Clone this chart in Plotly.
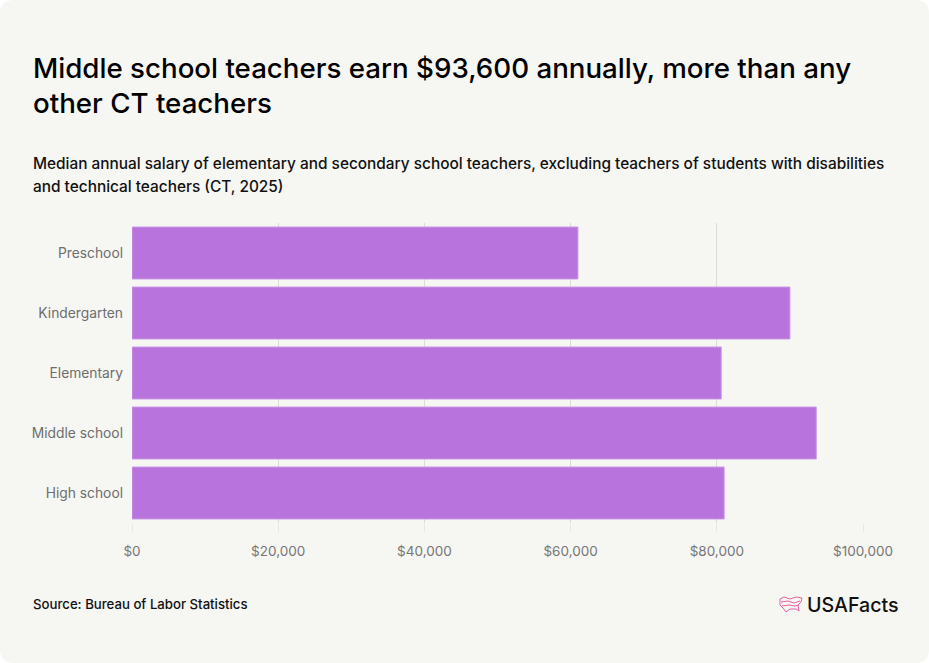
import plotly.graph_objects as go

categories = ["Preschool", "Kindergarten", "Elementary", "Middle school", "High school"]
salaries = [61000, 90000, 80600, 93600, 81000]
tick_vals = [0, 20000, 40000, 60000, 80000, 100000]
tick_text = ["$0", "$20,000", "$40,000", "$60,000", "$80,000", "$100,000"]

W, H = 929, 663
L, R, T, B = 132, 66, 223, 140
PW, PH = W - L - R, H - T - B


def px(x):
    return (x - L) / PW


def py(y):
    return (H - B - y) / PH


BG = "#f6f6f2"
FONT = "Inter"

fig = go.Figure()
fig.add_trace(go.Bar(
    y=categories, x=salaries, orientation="h",
    marker=dict(color="#b873dc", line=dict(color="#c795e3", width=1)),
    hoverinfo="x+y",
))

# rounded card background
r = 14
card = (f"M {px(r)} {py(0)} L {px(W - r)} {py(0)} Q {px(W)} {py(0)} {px(W)} {py(r)} "
        f"L {px(W)} {py(H - r)} Q {px(W)} {py(H)} {px(W - r)} {py(H)} "
        f"L {px(r)} {py(H)} Q {px(0)} {py(H)} {px(0)} {py(H - r)} "
        f"L {px(0)} {py(r)} Q {px(0)} {py(0)} {px(r)} {py(0)} Z")
shapes = [dict(type="path", path=card, xref="paper", yref="paper",
               fillcolor=BG, line=dict(width=0), layer="below")]

# logo icon (stylised map outline)
pts = [(780, 599), (784, 597), (790, 599), (796, 597), (802, 598), (801, 602),
       (798, 605), (799, 611), (796, 609), (790, 609), (786, 612), (783, 608), (780, 605)]
path = "M " + " L ".join(f"{px(x)} {py(y)}" for x, y in pts) + " Z"
shapes.append(dict(type="path", path=path, xref="paper", yref="paper",
                   line=dict(color="#ec5fa3", width=1)))
pts2 = [(781, 602), (788, 601), (794, 603), (800, 601)]
shapes.append(dict(type="path", path="M " + " L ".join(f"{px(x)} {py(y)}" for x, y in pts2),
                   xref="paper", yref="paper", line=dict(color="#ec5fa3", width=1)))
pts3 = [(782, 606), (789, 605), (795, 606), (799, 605)]
shapes.append(dict(type="path", path="M " + " L ".join(f"{px(x)} {py(y)}" for x, y in pts3),
                   xref="paper", yref="paper", line=dict(color="#ec5fa3", width=1)))


def ann(text, x, y, size, color="#111111", weight=400, xanchor="left"):
    return dict(text=text, x=px(x), y=py(y), xref="paper", yref="paper",
                xanchor=xanchor, yanchor="middle", showarrow=False,
                font=dict(family=FONT, size=size, color=color, weight=weight))


annotations = [
    ann("Middle school teachers earn $93,600 annually, more than any", 31, 68, 27.7, "#000000", 500),
    ann("other CT teachers", 31, 103, 27.7, "#000000", 500),
    ann("Median annual salary of elementary and secondary school teachers, excluding teachers of students with disabilities",
        31, 163, 15.4, "#111111", 500),
    ann("and technical teachers (CT, 2025)", 31, 187, 15.4, "#111111", 500),
    ann("Source: Bureau of Labor Statistics", 31, 604, 13.2, "#111111", 500),
    ann("USAFacts", 805, 605, 19.6, "#111111", 500),
]

fig.update_layout(
    width=W, height=H,
    margin=dict(l=L, r=R, t=T, b=B),
    paper_bgcolor="#ffffff",
    plot_bgcolor="rgba(0,0,0,0)",
    bargap=0.135,
    showlegend=False,
    shapes=shapes,
    annotations=annotations,
    xaxis=dict(range=[0, 100000], tickvals=tick_vals, ticktext=tick_text,
               showgrid=True, gridcolor="#dcdcd6", gridwidth=1,
               zeroline=False, showline=False,
               ticks="outside", ticklen=8, tickcolor="#e6e6e2", tickwidth=1,
               ticklabelstandoff=8,
               tickfont=dict(family=FONT, size=13.5, color="#777777")),
    yaxis=dict(autorange="reversed", showgrid=False, zeroline=False, showline=False,
               ticks="", ticklabelstandoff=8,
               tickfont=dict(family=FONT, size=13.8, color="#6e6e6e")),
    font=dict(family=FONT),
)

fig.write_html("out.html", config={"displayModeBar": False},
               post_script="document.body.style.margin='0px';")
